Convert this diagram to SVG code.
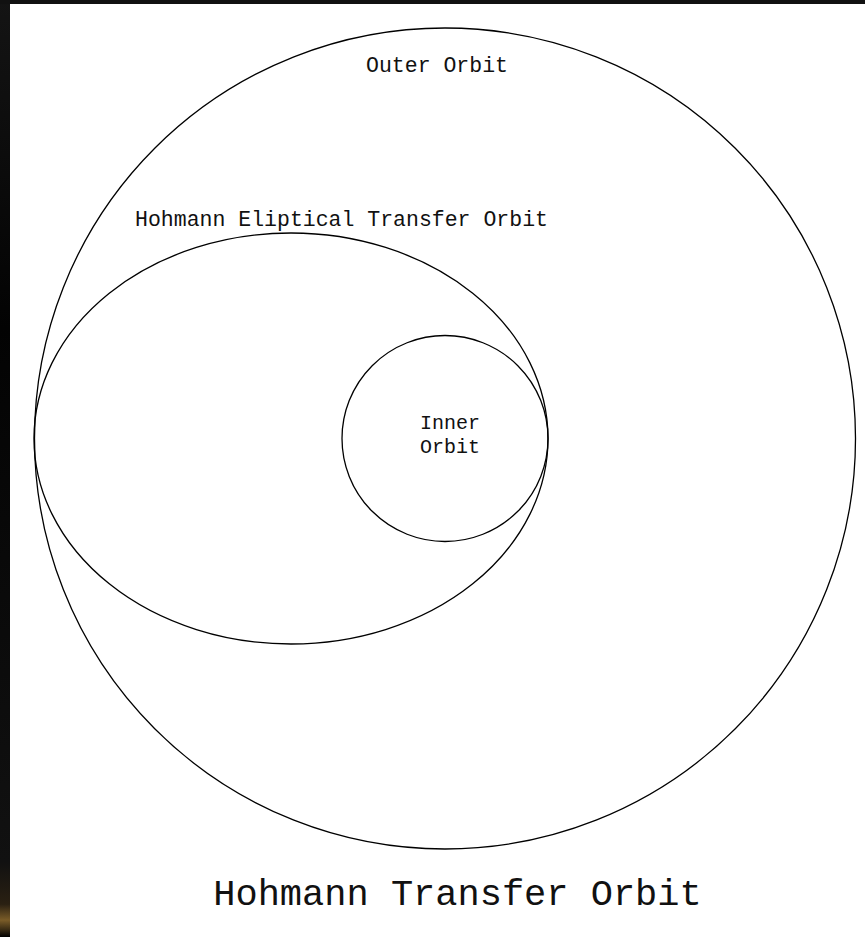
<svg xmlns="http://www.w3.org/2000/svg" width="865" height="937" viewBox="0 0 865 937">
  <defs>
    <linearGradient id="strip" x1="0" y1="0" x2="0" y2="1">
      <stop offset="0" stop-color="#141414"/>
      <stop offset="0.35" stop-color="#030303"/>
      <stop offset="0.92" stop-color="#111111"/>
      <stop offset="0.965" stop-color="#2a2012"/>
      <stop offset="0.982" stop-color="#7a5c28"/>
      <stop offset="0.992" stop-color="#3a2c14"/>
      <stop offset="1" stop-color="#000000"/>
    </linearGradient>
  </defs>
  <style>
    .orbit { fill: none; stroke: #000; stroke-width: 1.3; }
    .lbl { font-family: "Liberation Mono", "Courier New", monospace; fill: #111; text-anchor: middle; }
  </style>
  <rect x="0" y="0" width="865" height="937" fill="#ffffff"/>
  <rect x="0" y="0" width="10" height="937" fill="url(#strip)"/>
  <rect x="0" y="0" width="865" height="4" fill="#111111"/>

  <g id="outer-orbit">
    <circle class="orbit" cx="445" cy="438.5" r="410.5"/>
    <text class="lbl" x="437" y="72" font-size="21.5">Outer Orbit</text>
  </g>
  <g id="transfer-orbit">
    <ellipse class="orbit" cx="291" cy="438.5" rx="257" ry="205.5"/>
    <text class="lbl" x="341.5" y="226" font-size="21.5">Hohmann Eliptical Transfer Orbit</text>
  </g>
  <g id="inner-orbit">
    <circle class="orbit" cx="445" cy="438.5" r="103"/>
    <text class="lbl" x="450" y="429" font-size="20">Inner</text>
    <text class="lbl" x="450" y="453" font-size="20">Orbit</text>
  </g>
  <g id="connectors"></g>
  <g id="title">
    <text class="lbl" x="457.5" y="905" font-size="37">Hohmann Transfer Orbit</text>
  </g>
</svg>
